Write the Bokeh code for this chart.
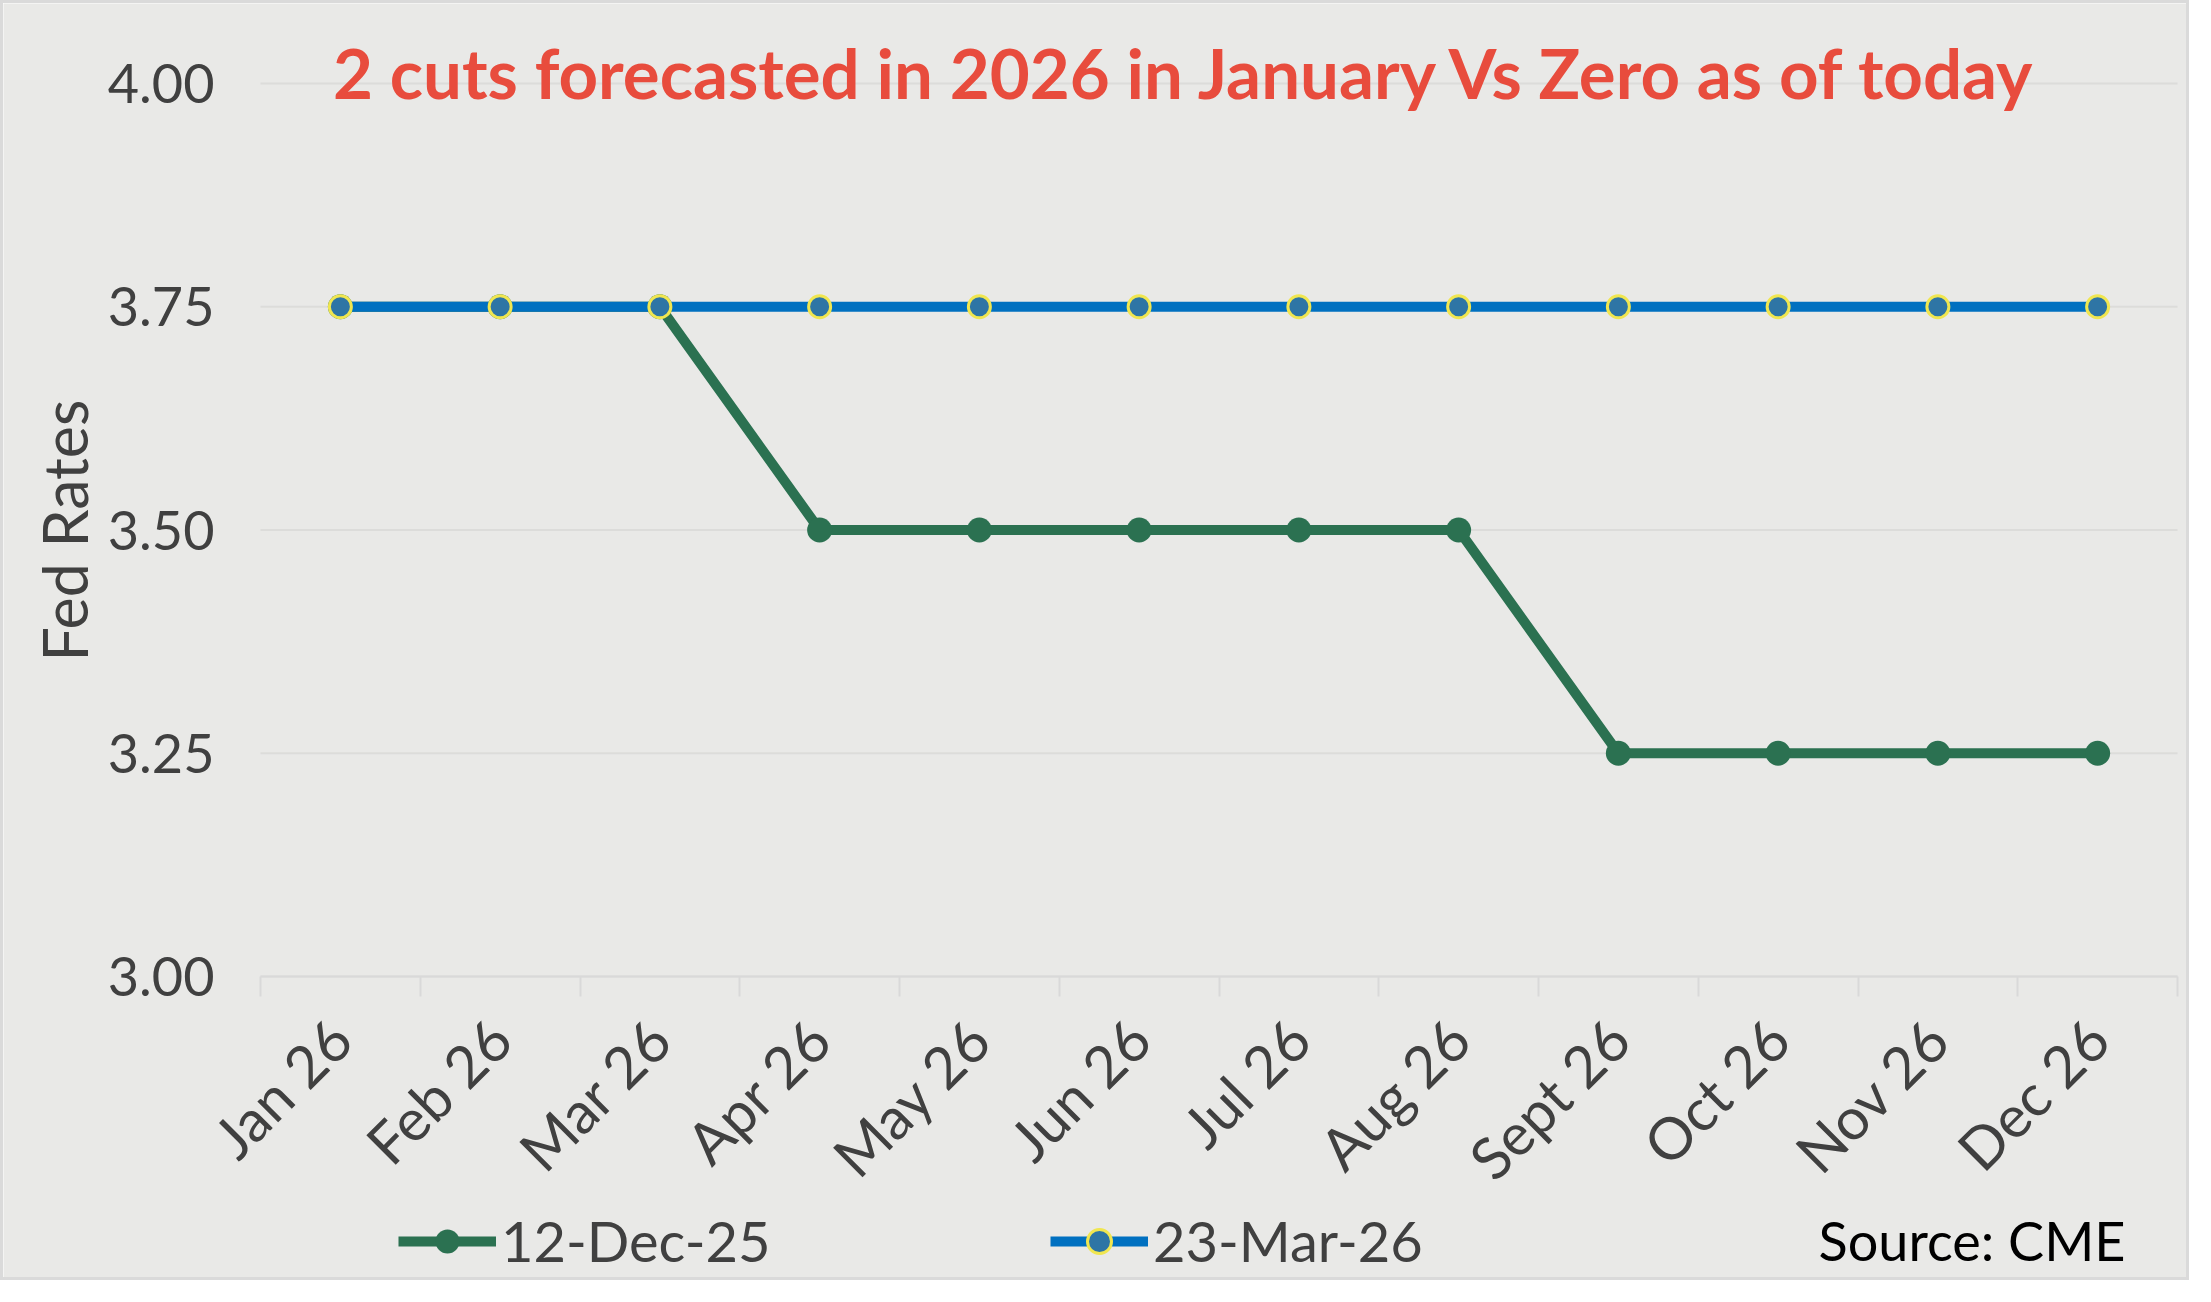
from bokeh.plotting import figure
from bokeh.models import (Range1d, FixedTicker, Legend, LegendItem, Label)
from bokeh.embed import file_html
from bokeh.resources import INLINE
from math import pi

months = ["Jan 26", "Feb 26", "Mar 26", "Apr 26", "May 26", "Jun 26",
          "Jul 26", "Aug 26", "Sept 26", "Oct 26", "Nov 26", "Dec 26"]
dec_12_25 = [3.75, 3.75, 3.75, 3.50, 3.50, 3.50, 3.50, 3.50, 3.25, 3.25, 3.25, 3.25]
mar_23_26 = [3.75, 3.75, 3.75, 3.75, 3.75, 3.75, 3.75, 3.75, 3.75, 3.75, 3.75, 3.75]
y_ticks = [3.00, 3.25, 3.50, 3.75, 4.00]

FONT = "Lato"
BG = "#E9E9E7"
GRID = "#DCDCDA"
AXIS = "#D9D9D9"
TEXT = "#404040"
GREEN = "#2B7151"
BLUE = "#0070C0"

W, H = 2189, 1280
# plot area inside the canvas (pixels from top-left)
LEFT, RIGHT, TOP, BOTTOM = 257, 2174, 80, 973

n = len(months)
xs = list(range(n))
y0, y1 = y_ticks[0], y_ticks[-1]

# the frame fills the whole canvas; axes are pinned to the plot-area edges
px_x = (RIGHT - LEFT) / n
px_y = (BOTTOM - TOP) / (y1 - y0)
x_range = Range1d(-0.5 - LEFT / px_x, n - 0.5 + (W - RIGHT) / px_x)
y_range = Range1d(y0 - (H - BOTTOM) / px_y, y1 + TOP / px_y)

p = figure(width=W, height=H, output_backend="svg", toolbar_location=None,
           x_range=x_range, y_range=y_range,
           min_border=0, min_border_left=0, min_border_right=0,
           min_border_top=0, min_border_bottom=0)
p.styles = {"border": "3px solid #DADADA"}
p.background_fill_color = BG
p.border_fill_color = BG
p.outline_line_color = None
p.xgrid.visible = False
p.ygrid.visible = False

# y axis
p.yaxis.fixed_location = -0.5
p.yaxis.bounds = (y0, y1)
p.yaxis.ticker = FixedTicker(ticks=y_ticks)
p.yaxis.major_label_overrides = {t: "%.2f" % t for t in y_ticks}
p.yaxis.axis_line_color = None
p.yaxis.major_tick_line_color = None
p.yaxis.minor_tick_line_color = None
p.yaxis.major_label_standoff = 40
p.yaxis.major_label_text_font = FONT
p.yaxis.major_label_text_font_size = "54px"
p.yaxis.major_label_text_color = TEXT

# x axis: labels at category centres, tick marks at boundaries
p.xaxis.fixed_location = y0
p.xaxis.bounds = (-0.5, n - 0.5)
p.xaxis.ticker = FixedTicker(ticks=xs, minor_ticks=[i - 0.5 for i in range(n + 1)])
p.xaxis.major_label_overrides = {i: m for i, m in enumerate(months)}
p.xaxis.major_label_orientation = pi / 4
p.xaxis.major_tick_line_color = None
p.xaxis.major_tick_out = 0
p.xaxis.major_tick_in = 0
p.xaxis.minor_tick_line_color = AXIS
p.xaxis.minor_tick_line_width = 2
p.xaxis.minor_tick_out = 20
p.xaxis.minor_tick_in = 0
p.xaxis.axis_line_color = AXIS
p.xaxis.axis_line_width = 2
p.xaxis.major_label_standoff = 32
p.xaxis.major_label_text_font = FONT
p.xaxis.major_label_text_font_size = "58px"
p.xaxis.major_label_text_color = TEXT

# horizontal gridlines across the plot area only
p.segment(x0=[-0.5] * len(y_ticks), x1=[n - 0.5] * len(y_ticks),
          y0=y_ticks, y1=y_ticks, line_color=GRID, line_width=2)

g_line = p.line(xs, dec_12_25, line_color=GREEN, line_width=10)
g_pts = p.scatter(xs, dec_12_25, size=25, fill_color=GREEN, line_color=None)
b_line = p.line(xs, mar_23_26, line_color=BLUE, line_width=10)
b_pts = p.scatter(xs, mar_23_26, size=22, fill_color="#2E75A5",
                  line_color="#F0E650", line_width=3)

p.add_layout(Label(x=1183, y=H - 69, x_units="screen", y_units="screen",
                   text="2 cuts forecasted in 2026 in January Vs Zero as of today",
                   text_align="center", text_baseline="middle",
                   text_font=FONT, text_font_style="bold", text_font_size="69px",
                   text_color="#E84C3D"))

p.add_layout(Label(x=61, y=H - 527, x_units="screen", y_units="screen",
                   text="Fed Rates", angle=pi / 2,
                   text_align="center", text_baseline="middle",
                   text_font=FONT, text_font_size="61px", text_color=TEXT))

p.add_layout(Label(x=2122, y=H - 1237, x_units="screen", y_units="screen",
                   text="Source: CME", text_align="right", text_baseline="middle",
                   text_font=FONT, text_font_size="54px", text_color="#000000"))

for item, xloc in [(LegendItem(label="12-Dec-25", renderers=[g_line, g_pts]), 395),
                   (LegendItem(label="23-Mar-26", renderers=[b_line, b_pts]), 1047)]:
    leg = Legend(items=[item], location=(xloc, H - 1241 - 30), orientation="horizontal",
                 glyph_width=98, glyph_height=60, label_height=60,
                 label_standoff=5, padding=0, margin=0,
                 border_line_color=None, background_fill_alpha=0,
                 label_text_font=FONT, label_text_font_size="56px",
                 label_text_color=TEXT)
    p.add_layout(leg)

open("out.html", "w").write(file_html(p, INLINE))
